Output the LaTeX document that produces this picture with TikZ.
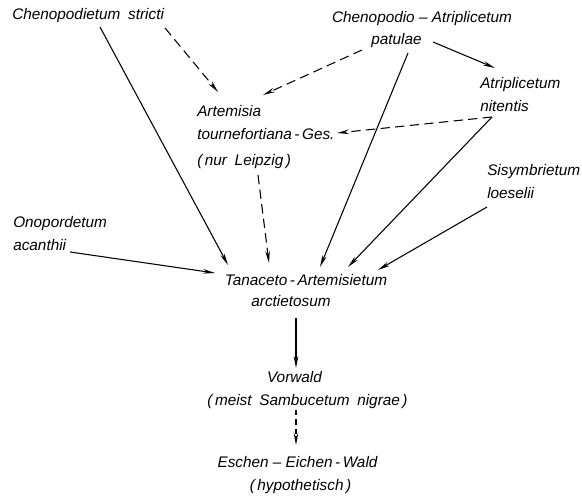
\documentclass[tikz,border=0pt]{standalone}
\usepackage{fontspec}
\setmainfont{Liberation Sans}
\usepackage{tikz}
\usetikzlibrary{arrows.meta,calc}

\begin{document}
\begin{tikzpicture}[x=0.75pt,y=0.75pt,yscale=-1,xscale=1,
  assoc/.style={inner sep=0pt,font=\fontsize{11.5}{17}\selectfont\itshape,align=left},
  solidarr/.style={line width=0.8pt,-{Stealth[length=9pt,width=3.4pt]}},
  dasharr/.style={solidarr,dash pattern=on 7pt off 4pt},
  shortdash/.style={solidarr,dash pattern=on 4pt off 3pt}]
\useasboundingbox (0,0) rectangle (582,499);

%Text nodes
\node [assoc,anchor=base west] (stricti) at (12,20) {Chenopodietum\enspace stricti};
\node [assoc,anchor=base] (chenatr) at (422,23) {Chenopodio -- Atriplicetum};
\node [assoc,anchor=base] (patulae) at (396.5,45) {patulae};
\node [assoc,anchor=north west] (tournef) at (197,105) {Artemisia\\tournefortiana\,-\,Ges.\\[3pt](\,nur\enspace Leipzig\,)};
\node [assoc,anchor=north west] (nitentis) at (480,77) {Atriplicetum\\nitentis};
\node [assoc,anchor=north west] (loeselii) at (487,164) {Sisymbrietum\\loeselii};
\node [assoc,anchor=north west] (acanthii) at (13,216) {Onopordetum\\acanthii};
\node [assoc,anchor=base] (tanac) at (306,286) {Tanaceto\,-\,Artemisietum};
\node [assoc,anchor=base] (arctiet) at (291,306) {arctietosum};
\node [assoc,anchor=base] (vorwald) at (294.5,382) {Vorwald};
\node [assoc,anchor=base] (sambuc) at (307.5,405) {(\,meist\enspace Sambucetum\enspace nigrae\,)};
\node [assoc,anchor=base] (eschen) at (297.5,467) {Eschen -- Eichen\,-\,Wald};
\node [assoc,anchor=base] (hypoth) at (300.5,490) {(\,hypothetisch\,)};

%Arrows into Artemisia tournefortiana-Ges.
\draw [dasharr] ($(stricti.base west)+(153,8)$) -- ($(tournef.north west)+(21,-13)$);
\draw [dasharr] ($(patulae.base)+(-34.5,5)$) -- ($(tournef.north west)+(66,-10)$);
\draw [dasharr] ($(nitentis.north west)+(12,40)$) -- ($(tournef.north west)+(140,28)$);

%Arrow to Atriplicetum nitentis
\draw [solidarr] ($(patulae.base)+(36.5,-3)$) -- ($(nitentis.north west)+(15,-9)$);

%Arrows into Tanaceto-Artemisietum
\draw [solidarr] ($(stricti.base west)+(88,7)$) -- ($(tanac.base)+(-78,-21)$);
\draw [dasharr] ($(tournef.north west)+(61,70)$) -- ($(tanac.base)+(-37,-23)$);
\draw [solidarr] ($(patulae.base)+(11.5,8)$) -- ($(tanac.base)+(14,-19)$);
\draw [solidarr] ($(nitentis.north west)+(12,40)$) -- ($(tanac.base)+(42,-19)$);
\draw [solidarr] ($(loeselii.north west)+(0,43)$) -- ($(tanac.base)+(72,-16)$);
\draw [solidarr] ($(acanthii.north west)+(57,36)$) -- ($(tanac.base)+(-91,-13)$);

%Succession
\draw [solidarr] ($(arctiet.base)+(5,12)$) -- ($(vorwald.base)+(1.5,-14)$);
\draw [shortdash] ($(sambuc.base)+(-11.5,5)$) -- ($(eschen.base)+(-1.5,-22)$);

\end{tikzpicture}
\end{document}
